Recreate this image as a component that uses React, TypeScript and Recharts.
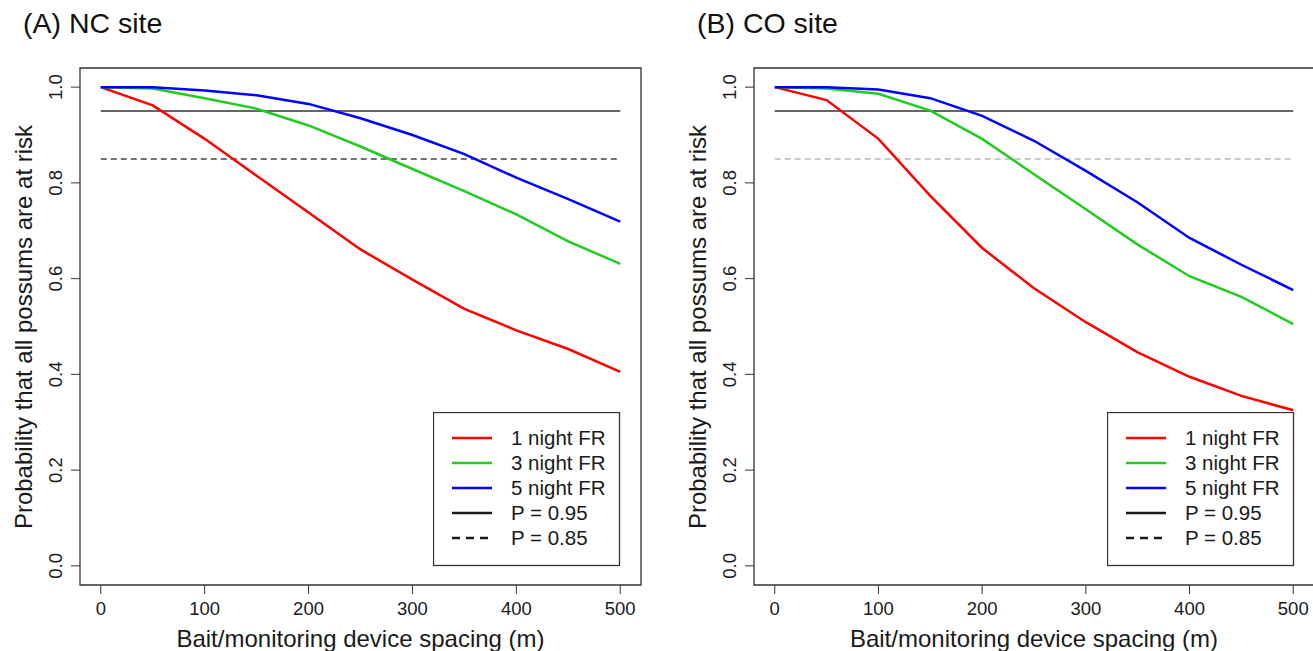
import React from "react";
import { LineChart, Line, XAxis, YAxis, ReferenceLine, ReferenceArea, Label } from "recharts";

// spacing (m) along the x axis
const spacing = [0, 50, 100, 150, 200, 250, 300, 350, 400, 450, 500];

// (A) NC site
const ncOneNight = [1.0, 0.962, 0.892, 0.815, 0.738, 0.661, 0.598, 0.537, 0.492, 0.453, 0.405];
const ncThreeNight = [1.0, 0.997, 0.977, 0.955, 0.92, 0.876, 0.829, 0.783, 0.734, 0.678, 0.631];
const ncFiveNight = [1.0, 1.0, 0.993, 0.983, 0.965, 0.935, 0.9, 0.86, 0.811, 0.766, 0.719];

// (B) CO site
const coOneNight = [1.0, 0.973, 0.892, 0.773, 0.664, 0.58, 0.509, 0.446, 0.395, 0.355, 0.325];
const coThreeNight = [1.0, 0.997, 0.986, 0.951, 0.892, 0.818, 0.745, 0.671, 0.605, 0.562, 0.505];
const coFiveNight = [1.0, 1.0, 0.995, 0.977, 0.94, 0.888, 0.825, 0.759, 0.685, 0.629, 0.576];

const xTicks = [0, 100, 200, 300, 400, 500];
const yTicks = [0, 0.2, 0.4, 0.6, 0.8, 1.0];
const thresholds = [0.95, 0.85];

const seriesNames = ["1 night FR", "3 night FR", "5 night FR"];
const seriesColors = ["#ff0000", "#1fcc1f", "#0000ff"];

const FONT = "Arial, 'Liberation Sans', sans-serif";
const INK = "#1a1a1a";

function buildRows(one: number[], three: number[], five: number[]) {
  return spacing.map((s, i) => ({ spacing: s, one: one[i], three: three[i], five: five[i] }));
}

function XTick(props: any) {
  const { x, y, payload } = props;
  return (
    <text x={x} y={y + 19} textAnchor="middle" fontSize={18.5} fill={INK} fontFamily={FONT}>
      {payload.value}
    </text>
  );
}

function YTick(props: any) {
  const { x, y, payload } = props;
  const cx = x - 7;
  return (
    <text
      x={cx}
      y={y}
      transform={`rotate(-90, ${cx}, ${y})`}
      textAnchor="middle"
      fontSize={18.5}
      fill={INK}
      fontFamily={FONT}
    >
      {Number(payload.value).toFixed(1)}
    </text>
  );
}

type PanelProps = {
  title: string;
  rows: ReturnType<typeof buildRows>;
  left: number;
  titleX: number;
  marginLeft: number;
  marginRight: number;
  dashColor: string;
  legendLeft: number;
};

function Legend({ left }: { left: number }) {
  const items = [
    ...seriesNames.map((n, i) => ({ name: n, color: seriesColors[i], dash: undefined as string | undefined })),
    { name: "P = 0.95", color: INK, dash: undefined },
    { name: "P = 0.85", color: INK, dash: "8 6" },
  ];
  return (
    <svg width={188} height={155} style={{ position: "absolute", left: left, top: 412 }}>
      <rect x={0.5} y={0.5} width={186} height={153} fill="#fff" stroke="#333" strokeWidth={1.3} />
      {items.map((it, i) => (
        <g key={it.name}>
          <line
            x1={19}
            x2={59}
            y1={26 + i * 25}
            y2={26 + i * 25}
            stroke={it.color}
            strokeWidth={2.5}
            strokeDasharray={it.dash}
          />
          <text x={78} y={26 + i * 25 + 7} fontSize={20.5} fill={INK} fontFamily={FONT}>
            {it.name}
          </text>
        </g>
      ))}
    </svg>
  );
}

function Panel({ title, rows, left, titleX, marginLeft, marginRight, dashColor, legendLeft }: PanelProps) {
  return (
    <div style={{ position: "absolute", left: left, top: 0, width: 660, height: 651 }}>
      <svg width={300} height={50} style={{ position: "absolute", left: 0, top: 0 }}>
        <text x={titleX} y={33} fontSize={28.5} fill="#111" fontFamily={FONT}>
          {title}
        </text>
      </svg>
      <LineChart
        width={660}
        height={651}
        data={rows}
        margin={{ top: 68, right: marginRight, bottom: 6, left: marginLeft }}
      >
        <XAxis
          dataKey="spacing"
          type="number"
          domain={[-20, 520]}
          allowDataOverflow
          ticks={xTicks}
          axisLine={false}
          tickLine={{ stroke: "#333" }}
          tickSize={9}
          tickMargin={2}
          height={60}
          tick={<XTick />}
        >
          <Label
            content={(p: any) => {
              const vb = p.viewBox;
              return (
                <text
                  x={vb.x + vb.width / 2}
                  y={647}
                  textAnchor="middle"
                  fontSize={24}
                  fill={INK}
                  fontFamily={FONT}
                >
                  Bait/monitoring device spacing (m)
                </text>
              );
            }}
          />
        </XAxis>
        <YAxis
          type="number"
          domain={[-0.04, 1.04]}
          allowDataOverflow
          ticks={yTicks}
          axisLine={false}
          tickLine={{ stroke: "#333" }}
          tickSize={9}
          tickMargin={2}
          width={40}
          tick={<YTick />}
        >
          <Label
            content={(p: any) => {
              const vb = p.viewBox;
              const cx = vb.x + vb.width - 48;
              const cy = 327;
              return (
                <text
                  x={cx}
                  y={cy}
                  transform={`rotate(-90, ${cx}, ${cy})`}
                  textAnchor="middle"
                  fontSize={24}
                  fill={INK}
                  fontFamily={FONT}
                >
                  Probability that all possums are at risk
                </text>
              );
            }}
          />
        </YAxis>
        <ReferenceArea x1={-20} x2={520} y1={-0.04} y2={1.04} fill="none" stroke="#333" strokeWidth={1.3} ifOverflow="visible" />
        <ReferenceLine
          segment={[{ x: 0, y: thresholds[0] }, { x: 500, y: thresholds[0] }]}
          stroke="#333"
          strokeWidth={1.5}
        />
        <ReferenceLine
          segment={[{ x: 0, y: thresholds[1] }, { x: 500, y: thresholds[1] }]}
          stroke={dashColor}
          strokeWidth={1.5}
          strokeDasharray="6 4"
        />
        <Line dataKey="one" stroke={seriesColors[0]} strokeWidth={2.5} dot={false} isAnimationActive={false} />
        <Line dataKey="three" stroke={seriesColors[1]} strokeWidth={2.5} dot={false} isAnimationActive={false} />
        <Line dataKey="five" stroke={seriesColors[2]} strokeWidth={2.5} dot={false} isAnimationActive={false} />
      </LineChart>
      <Legend left={legendLeft} />
    </div>
  );
}

export default function App() {
  return (
    <div
      style={{
        position: "absolute",
        left: 0,
        top: 0,
        width: 1313,
        height: 651,
        overflow: "hidden",
        background: "#fff",
      }}
    >
      <Panel
        title="(A) NC site"
        rows={buildRows(ncOneNight, ncThreeNight, ncFiveNight)}
        left={0}
        titleX={23}
        marginLeft={40}
        marginRight={19}
        dashColor="#444"
        legendLeft={433}
      />
      <Panel
        title="(B) CO site"
        rows={buildRows(coOneNight, coThreeNight, coFiveNight)}
        left={660}
        titleX={37}
        marginLeft={54}
        marginRight={6}
        dashColor="#bbbbbb"
        legendLeft={447}
      />
    </div>
  );
}
